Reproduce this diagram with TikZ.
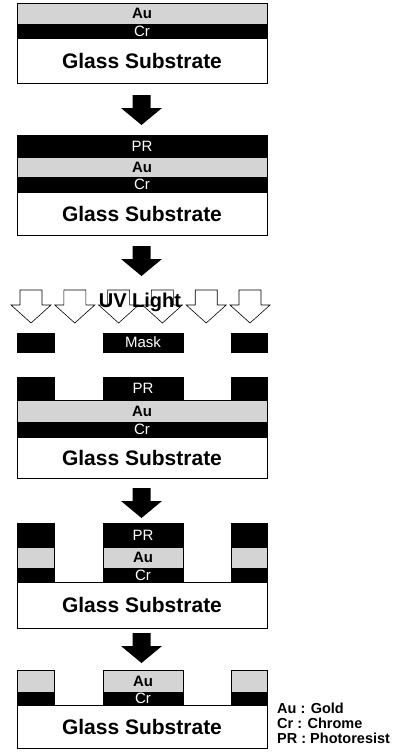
\documentclass[tikz,border=0pt]{standalone}
\usepackage{fontspec}
\setmainfont{Liberation Sans}
\usetikzlibrary{positioning}
\definecolor{aulayer}{HTML}{D4D4D4}

\tikzset{
  layer/.style={draw=black,line width=0.6pt,inner sep=0pt,outer sep=0pt,
    minimum width=250pt,anchor=north west},
  glass/.style={layer,fill=white,minimum height=45pt,
    font=\fontsize{21}{21}\selectfont\bfseries},
  gold/.style={layer,fill=aulayer,minimum height=21pt,
    font=\fontsize{15}{15}\selectfont\bfseries},
  chrome/.style={layer,fill=black,text=white,minimum height=14pt,
    font=\fontsize{15}{15}\selectfont},
  resist/.style={layer,fill=black,text=white,minimum height=22pt,
    font=\fontsize{15}{15}\selectfont},
  maskbar/.style={layer,fill=black,text=white,minimum height=19pt,
    font=\fontsize{15}{15}\selectfont},
  legend/.style={anchor=west,inner sep=0pt,font=\fontsize{14.5}{14.5}\selectfont\bfseries},
  downarrow/.pic={\fill[black] (-9,0) -- (9,0) -- (9,13) -- (20.5,13)
    -- (0,30) -- (-20.5,13) -- (-9,13) -- cycle;},
  uvarrow/.pic={\draw[black,fill=white,line width=0.6pt] (-11,0) -- (11,0)
    -- (11,15) -- (20,15) -- (0,33) -- (-20,15) -- (-11,15) -- cycle;}
}

\begin{document}
\begin{tikzpicture}[x=1pt,y=-1pt]
\useasboundingbox (0,0) rectangle (405,752);

% step 1: Cr and Au on glass
\node[gold] (au1) at (17,3) {Au};
\node[chrome,below=0pt of au1] (cr1) {Cr};
\node[glass,below=0pt of cr1] (gl1) {Glass Substrate};
\pic at (141.5,95) {downarrow};

% step 2: photoresist coating
\node[resist] (pr2) at (17,135) {PR};
\node[gold,below=0pt of pr2,minimum height=20pt] (au2) {Au};
\node[chrome,below=0pt of au2,minimum height=15pt] (cr2) {Cr};
\node[glass,below=0pt of cr2,minimum height=43pt] (gl2) {Glass Substrate};
\pic at (141.5,246) {downarrow};

% step 3: exposure through the mask
\foreach \i in {0,...,5}
  \pic at (31+43.8*\i,290) {uvarrow};
\node[font=\fontsize{20}{20}\selectfont\bfseries,inner sep=0pt] (uv) at (140,302) {UV Light};
\node[maskbar,minimum width=37pt] (mk1) at (17,333) {};
\node[maskbar,minimum width=80pt] (mk2) at (103,333) {Mask};
\node[maskbar,minimum width=36pt] (mk3) at (231,333) {};

\node[resist,minimum width=37pt,minimum height=23pt] (pr3a) at (17,377) {};
\node[resist,minimum width=80pt,minimum height=23pt] (pr3b) at (103,377) {PR};
\node[resist,minimum width=36pt,minimum height=23pt] (pr3c) at (231,377) {};
\node[gold,minimum height=22pt] (au3) at (17,400) {Au};
\node[chrome,below=0pt of au3,minimum height=15pt] (cr3) {Cr};
\node[glass,below=0pt of cr3,minimum height=41pt] (gl3) {Glass Substrate};
\pic at (141.5,488) {downarrow};

% step 4: etching of Au and Cr
\node[resist,minimum width=37pt,minimum height=24pt] (pr4a) at (17,523) {};
\node[gold,below=0pt of pr4a,minimum width=37pt] (au4a) {};
\node[chrome,below=0pt of au4a,minimum width=37pt] (cr4a) {};
\node[resist,minimum width=80pt,minimum height=24pt] (pr4b) at (103,523) {PR};
\node[gold,below=0pt of pr4b,minimum width=80pt] (au4b) {Au};
\node[chrome,below=0pt of au4b,minimum width=80pt] (cr4b) {Cr};
\node[resist,minimum width=36pt,minimum height=24pt] (pr4c) at (231,523) {};
\node[gold,below=0pt of pr4c,minimum width=36pt] (au4c) {};
\node[chrome,below=0pt of au4c,minimum width=36pt] (cr4c) {};
\node[glass,minimum height=46pt] (gl4) at (17,582) {Glass Substrate};
\pic at (141.5,633) {downarrow};

% step 5: photoresist stripped
\node[gold,minimum width=37pt,minimum height=22pt] (au5a) at (17,670) {};
\node[chrome,below=0pt of au5a,minimum width=37pt,minimum height=13pt] (cr5a) {};
\node[gold,minimum width=80pt,minimum height=22pt] (au5b) at (103,670) {Au};
\node[chrome,below=0pt of au5b,minimum width=80pt,minimum height=13pt] (cr5b) {Cr};
\node[gold,minimum width=36pt,minimum height=22pt] (au5c) at (231,670) {};
\node[chrome,below=0pt of au5c,minimum width=36pt,minimum height=13pt] (cr5c) {};
\node[glass,minimum height=43pt] (gl5) at (17,705) {Glass Substrate};

\node[legend] (lg1) at (277,708) {Au : Gold};
\node[legend] (lg2) at (277,723) {Cr : Chrome};
\node[legend] (lg3) at (277,738) {PR : Photoresist};
\end{tikzpicture}
\end{document}
